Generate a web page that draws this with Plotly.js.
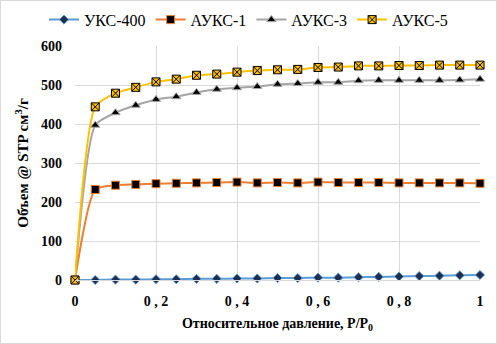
<!DOCTYPE html>
<html><head><meta charset="utf-8">
<script src="https://cdn.plot.ly/plotly-3.0.1.min.js"></script>
<style>html,body{margin:0;padding:0;background:#fff}#c{width:495px;height:342px;border:1px solid #d9d9d9}</style>
</head><body><div id="c"></div>
<script>
const pressure = [0,0.05,0.1,0.15,0.2,0.25,0.3,0.35,0.4,0.45,0.5,0.55,0.6,0.65,0.7,0.75,0.8,0.85,0.9,0.95,1.0];
const uks400 = [0,0,1,1,2,2,3,3,4,4,5,5,6,6,7,8,9,10,11,12,13];
const auks1 = [0,232,243,245,247,248,249,250,251,249,250,249,251,250,250,250,249,249,249,249,248];
const auks3 = [0,397,429,448,463,470,481,489,493,496,502,504,507,507,511,512,512,512,512,513,515];
const auks5 = [0,444,479,494,508,515,525,528,533,537,539,540,545,546,549,549,550,550,551,551,551];
const seriesNames = ['УКС-400','АУКС-1','АУКС-3','АУКС-5'];
const xTickVals = [0,0.2,0.4,0.6,0.8,1];
const xTickText = ['0','0 , 2','0 , 4','0 , 6','0 , 8','1'];

const FAM = 'Liberation Serif, Times New Roman, serif';
const mk = (y, name, lineColor, sym, mColor, mLine, size) => ({
  x: pressure, y: y, name: name, type: 'scatter', mode: 'lines+markers',
  line: {color: lineColor, width: 2, shape: 'spline', smoothing: 0.6},
  marker: {symbol: sym, color: mColor, size: size, line: {color: mLine, width: 1}},
  cliponaxis: false
});
const data = [
  mk(uks400, seriesNames[0], '#5b9bd5', 'diamond', '#1f2f4f', '#5b9bd5', 7),
  mk(auks1, seriesNames[1], '#ed7d31', 'square', '#000000', '#ed7d31', 8),
  mk(auks3, seriesNames[2], '#a5a5a5', 'triangle-up', '#000000', '#a5a5a5', 8),
  mk(auks5, seriesNames[3], '#ffc000', 'square-x', '#ffc000', '#000000', 8)
];
const layout = {
  width: 495, height: 342,
  margin: {l: 74, r: 16, t: 45, b: 63},
  paper_bgcolor: '#fff', plot_bgcolor: '#fff',
  font: {family: FAM, size: 13, color: '#000'},
  showlegend: true,
  legend: {orientation: 'h', xref: 'container', x: 0.5, xanchor: 'center', yref: 'container', y: 0.995, yanchor: 'top',
    font: {family: FAM, size: 16, color: '#000'}, tracegroupgap: 0},
  xaxis: {range: [0, 1], tickvals: xTickVals, ticktext: xTickText, showgrid: true, gridcolor: '#d9d9d9',
    zeroline: false, showline: true, linecolor: '#d9d9d9', ticks: '', ticklabelstandoff: 8,
    tickfont: {family: FAM, size: 14, color: '#000', weight: 700},
    title: {text: '<b>Относительное давление, P/P<sub>0</sub></b>', font: {family: FAM, size: 14, color: '#000'}, standoff: 10}},
  yaxis: {range: [0, 600], dtick: 100, showgrid: true, gridcolor: '#d9d9d9', zeroline: false, showline: false, ticks: '',
    ticklabelstandoff: 12,
    tickfont: {family: FAM, size: 14, color: '#000', weight: 700},
    title: {text: '<b>Объем @ STP см<sup>3</sup>/г</b>', font: {family: FAM, size: 15, color: '#000'}, standoff: 8}}
};
Plotly.newPlot('c', data, layout, {displayModeBar: false, staticPlot: true});
</script></body></html>
